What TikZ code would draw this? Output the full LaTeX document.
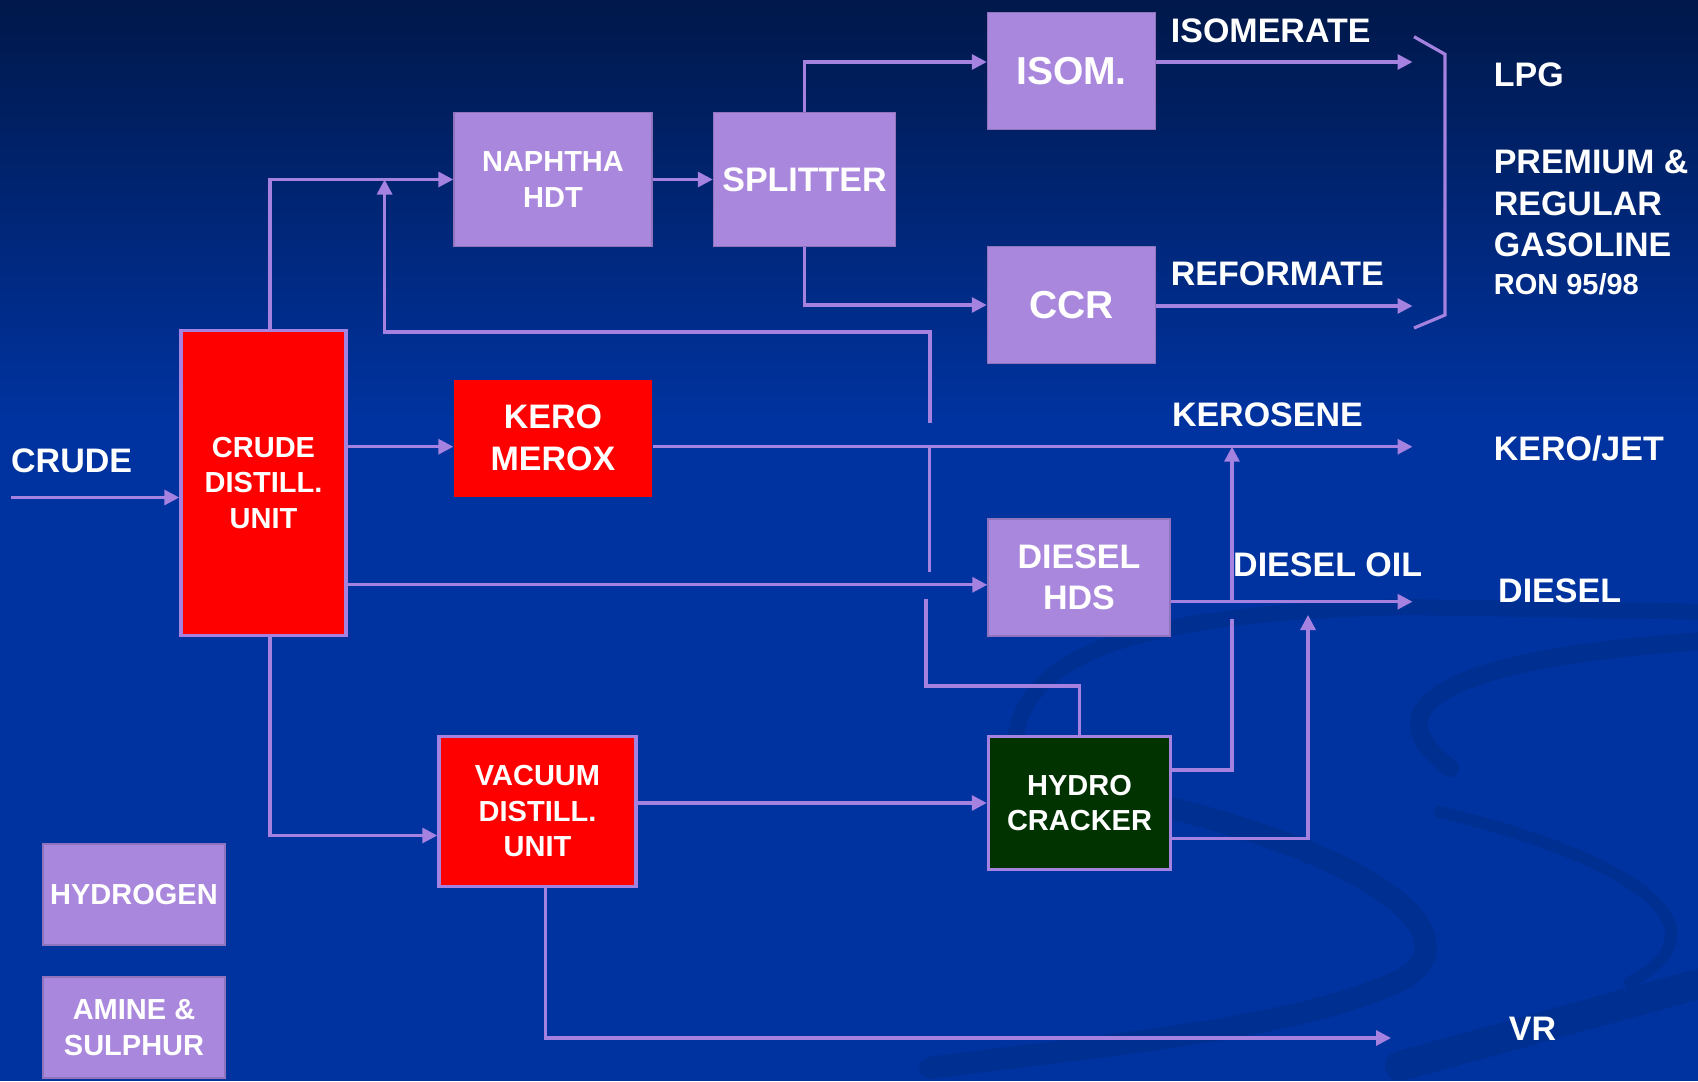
\documentclass[tikz,border=0pt]{standalone}
\usepackage{fontspec}
\setmainfont{Liberation Sans}
\usetikzlibrary{calc, arrows.meta}
\definecolor{bgtop}{HTML}{00184A}
\definecolor{bgmid}{HTML}{0033A0}
\definecolor{bgswoosh}{HTML}{002F92}
\definecolor{flowc}{HTML}{A582E0}
\definecolor{boxc}{HTML}{A887DD}
\definecolor{crackc}{HTML}{003300}
\newcommand\fsmall{\bfseries\fontsize{29bp}{35.5bp}\selectfont}
\newcommand\fmed{\bfseries\fontsize{34bp}{41.5bp}\selectfont}
\newcommand\fbig{\bfseries\fontsize{39bp}{47.5bp}\selectfont}

\begin{document}
\begin{tikzpicture}[x=1bp, y=-1bp,
  flow/.style={draw=flowc, line width=3.2bp, -{Triangle[length=15bp, width=15bp]}},
  pipe/.style={draw=flowc, line width=3.2bp},
  procbox/.style={fill=boxc, draw=boxc!85!black, line width=1.4bp, inner sep=0pt, text=white, align=center},
  hotbox/.style={procbox, fill=red, draw=flowc, line width=3.5bp},
  lbl/.style={text=white, anchor=west, inner sep=0pt, font=\fmed},
  swoosh/.style={draw=bgswoosh, line cap=round}]

  % background
  \useasboundingbox (0,0) rectangle (1698,1081);
  \shade[top color=bgtop, bottom color=bgmid] (0,0) rectangle (1698,420);
  \fill[bgmid] (0,419) rectangle (1698,1081);
  \begin{scope}
    \clip (0,0) rectangle (1698,1081);
    \draw[swoosh, line width=16bp] (1015,745) .. controls (1020,650) and (1150,612) .. (1409,607) -- (1720,612);
    \draw[swoosh, line width=18bp] (1720,640) .. controls (1470,655) and (1360,700) .. (1450,768);
    \draw[swoosh, line width=12bp] (1440,812) .. controls (1640,860) and (1730,930) .. (1630,982);
    \draw[swoosh, line width=22bp] (1170,808) .. controls (1380,860) and (1470,935) .. (1405,978) .. controls (1300,1030) and (1100,1045) .. (930,1068);
    \draw[swoosh, line width=30bp] (1720,978) -- (1400,1066);
  \end{scope}

  % units
  \node[hotbox, minimum width=165bp, minimum height=305bp, font=\fsmall] (cdu) at (263.5,483) {CRUDE\\DISTILL.\\UNIT};
  \node[procbox, minimum width=198bp, minimum height=134bp, font=\fsmall] (nhdt) at (553,179.5) {NAPHTHA\\HDT};
  \node[procbox, minimum width=182bp, minimum height=134bp, font=\fmed] (split) at (804.5,179.5) {SPLITTER};
  \node[procbox, minimum width=168bp, minimum height=117bp, font=\fbig] (isom) at (1071.5,71) {ISOM.};
  \node[procbox, minimum width=168bp, minimum height=117bp, font=\fbig] (ccr) at (1071.5,305) {CCR};
  \node[procbox, fill=red, draw=none, minimum width=198bp, minimum height=117bp, font=\fmed] (kero) at (553,438) {KERO\\MEROX};
  \node[procbox, minimum width=182bp, minimum height=117bp, font=\fmed] (dhds) at (1079,577.5) {DIESEL\\HDS};
  \node[hotbox, fill=crackc, minimum width=182bp, minimum height=133bp, font=\fsmall] (hc) at (1079.5,803) {HYDRO\\CRACKER};
  \node[hotbox, minimum width=197bp, minimum height=150bp, font=\fsmall] (vdu) at (537.5,811.5) {VACUUM\\DISTILL.\\UNIT};
  \node[procbox, minimum width=182bp, minimum height=101bp, font=\fsmall] (hyd) at (134,894.5) {HYDROGEN};
  \node[procbox, minimum width=182bp, minimum height=101bp, font=\fsmall] (amine) at (134,1027.5) {AMINE \&\\SULPHUR};

  % stream ends
  \coordinate (crudein) at (11,497.5);
  \coordinate (isoout) at (1412.5,62);
  \coordinate (refout) at (1412.5,306);
  \coordinate (kerout) at (1412.5,446.7);
  \coordinate (dslout) at (1412.5,601.7);
  \coordinate (vrout) at (1391,1038);
  \coordinate (hdsfeed) at (0,584.8);
  \coordinate (vdufeed) at (0,835.5);

  % main streams
  \draw[flow] (crudein) -- (crudein -| cdu.west);
  \draw[flow] ($(cdu.north)+(6.5,0)$) |- (nhdt.west);
  \draw[flow] (nhdt.east) -- (split.west);
  \draw[flow] (split.north) |- ($(isom.west)+(0,-9)$);
  \draw[flow] (split.south) |- (ccr.west);
  \draw[flow] ($(isom.east)+(0,-9)$) -- (isoout);
  \draw[flow] (ccr.east |- refout) -- (refout);
  \draw[pipe] (1414,36.7) -- (1445,54.3) -- (1445,315) -- (1414,328);
  \draw[flow] (cdu.east |- kerout) -- (kero.west |- kerout);
  \draw[flow] (kero.east |- kerout) -- (kerout);
  \draw[flow] (cdu.east |- hdsfeed) -- (dhds.west |- hdsfeed);
  \draw[flow] (dhds.east |- dslout) -- (dslout);
  \draw[flow] ($(cdu.south)+(6.5,0)$) |- (vdu.west |- vdufeed);
  \draw[flow] (vdu.east |- hc.west) -- (hc.west);
  \draw[flow] ($(vdu.south)+(8,0)$) |- (vrout);

  % hydrocracker products
  \coordinate (kjbend) at (1232,770);
  \coordinate (kjgap) at (1232,619);
  \draw[pipe] (hc.east |- kjbend) -- (kjbend) -- (kjgap);
  \draw[flow] (kjbend |- dslout) -- (kjbend |- kerout);
  \coordinate (dsbend) at (1308,838.3);
  \coordinate (dstip) at (1308,615);
  \draw[flow] (hc.east |- dsbend) -- (dsbend) -- (dstip);

  % recycle to naphtha HDT
  \coordinate (rcbend) at (926,686);
  \coordinate (rcgap1) at (926,599);
  \coordinate (rcgap2) at (929.5,572);
  \coordinate (rcgap3) at (930,423);
  \coordinate (rctop) at (930,332);
  \coordinate (rcleft) at (384.6,332);
  \draw[pipe] (hc.north) |- (rcbend) -- (rcgap1);
  \draw[pipe] (rcgap2) -- (rcgap2 |- kerout);
  \draw[flow] (rcgap3) -- (rctop) -- (rcleft) -- (rcleft |- nhdt.west);

  % labels
  \node[lbl] (crude) at (11,461) {CRUDE};
  \node[lbl] (isomerate) at (1170.7,30.5) {ISOMERATE};
  \node[lbl] (reformate) at (1170.7,274) {REFORMATE};
  \node[lbl] (kerosene) at (1171.8,415) {KEROSENE};
  \node[lbl] (dieseloil) at (1233,565) {DIESEL OIL};
  \node[lbl] (lpg) at (1493.6,75) {LPG};
  \node[lbl, align=left] (gasoline) at (1493.6,203.5) {PREMIUM \&\\REGULAR\\GASOLINE};
  \node[lbl, font=\fsmall] (ron) at (1493.6,284) {RON 95/98};
  \node[lbl] (kerojet) at (1493.6,449) {KERO/JET};
  \node[lbl] (diesel) at (1498,590.6) {DIESEL};
  \node[lbl] (vr) at (1508.7,1029) {VR};
\end{tikzpicture}
\end{document}
